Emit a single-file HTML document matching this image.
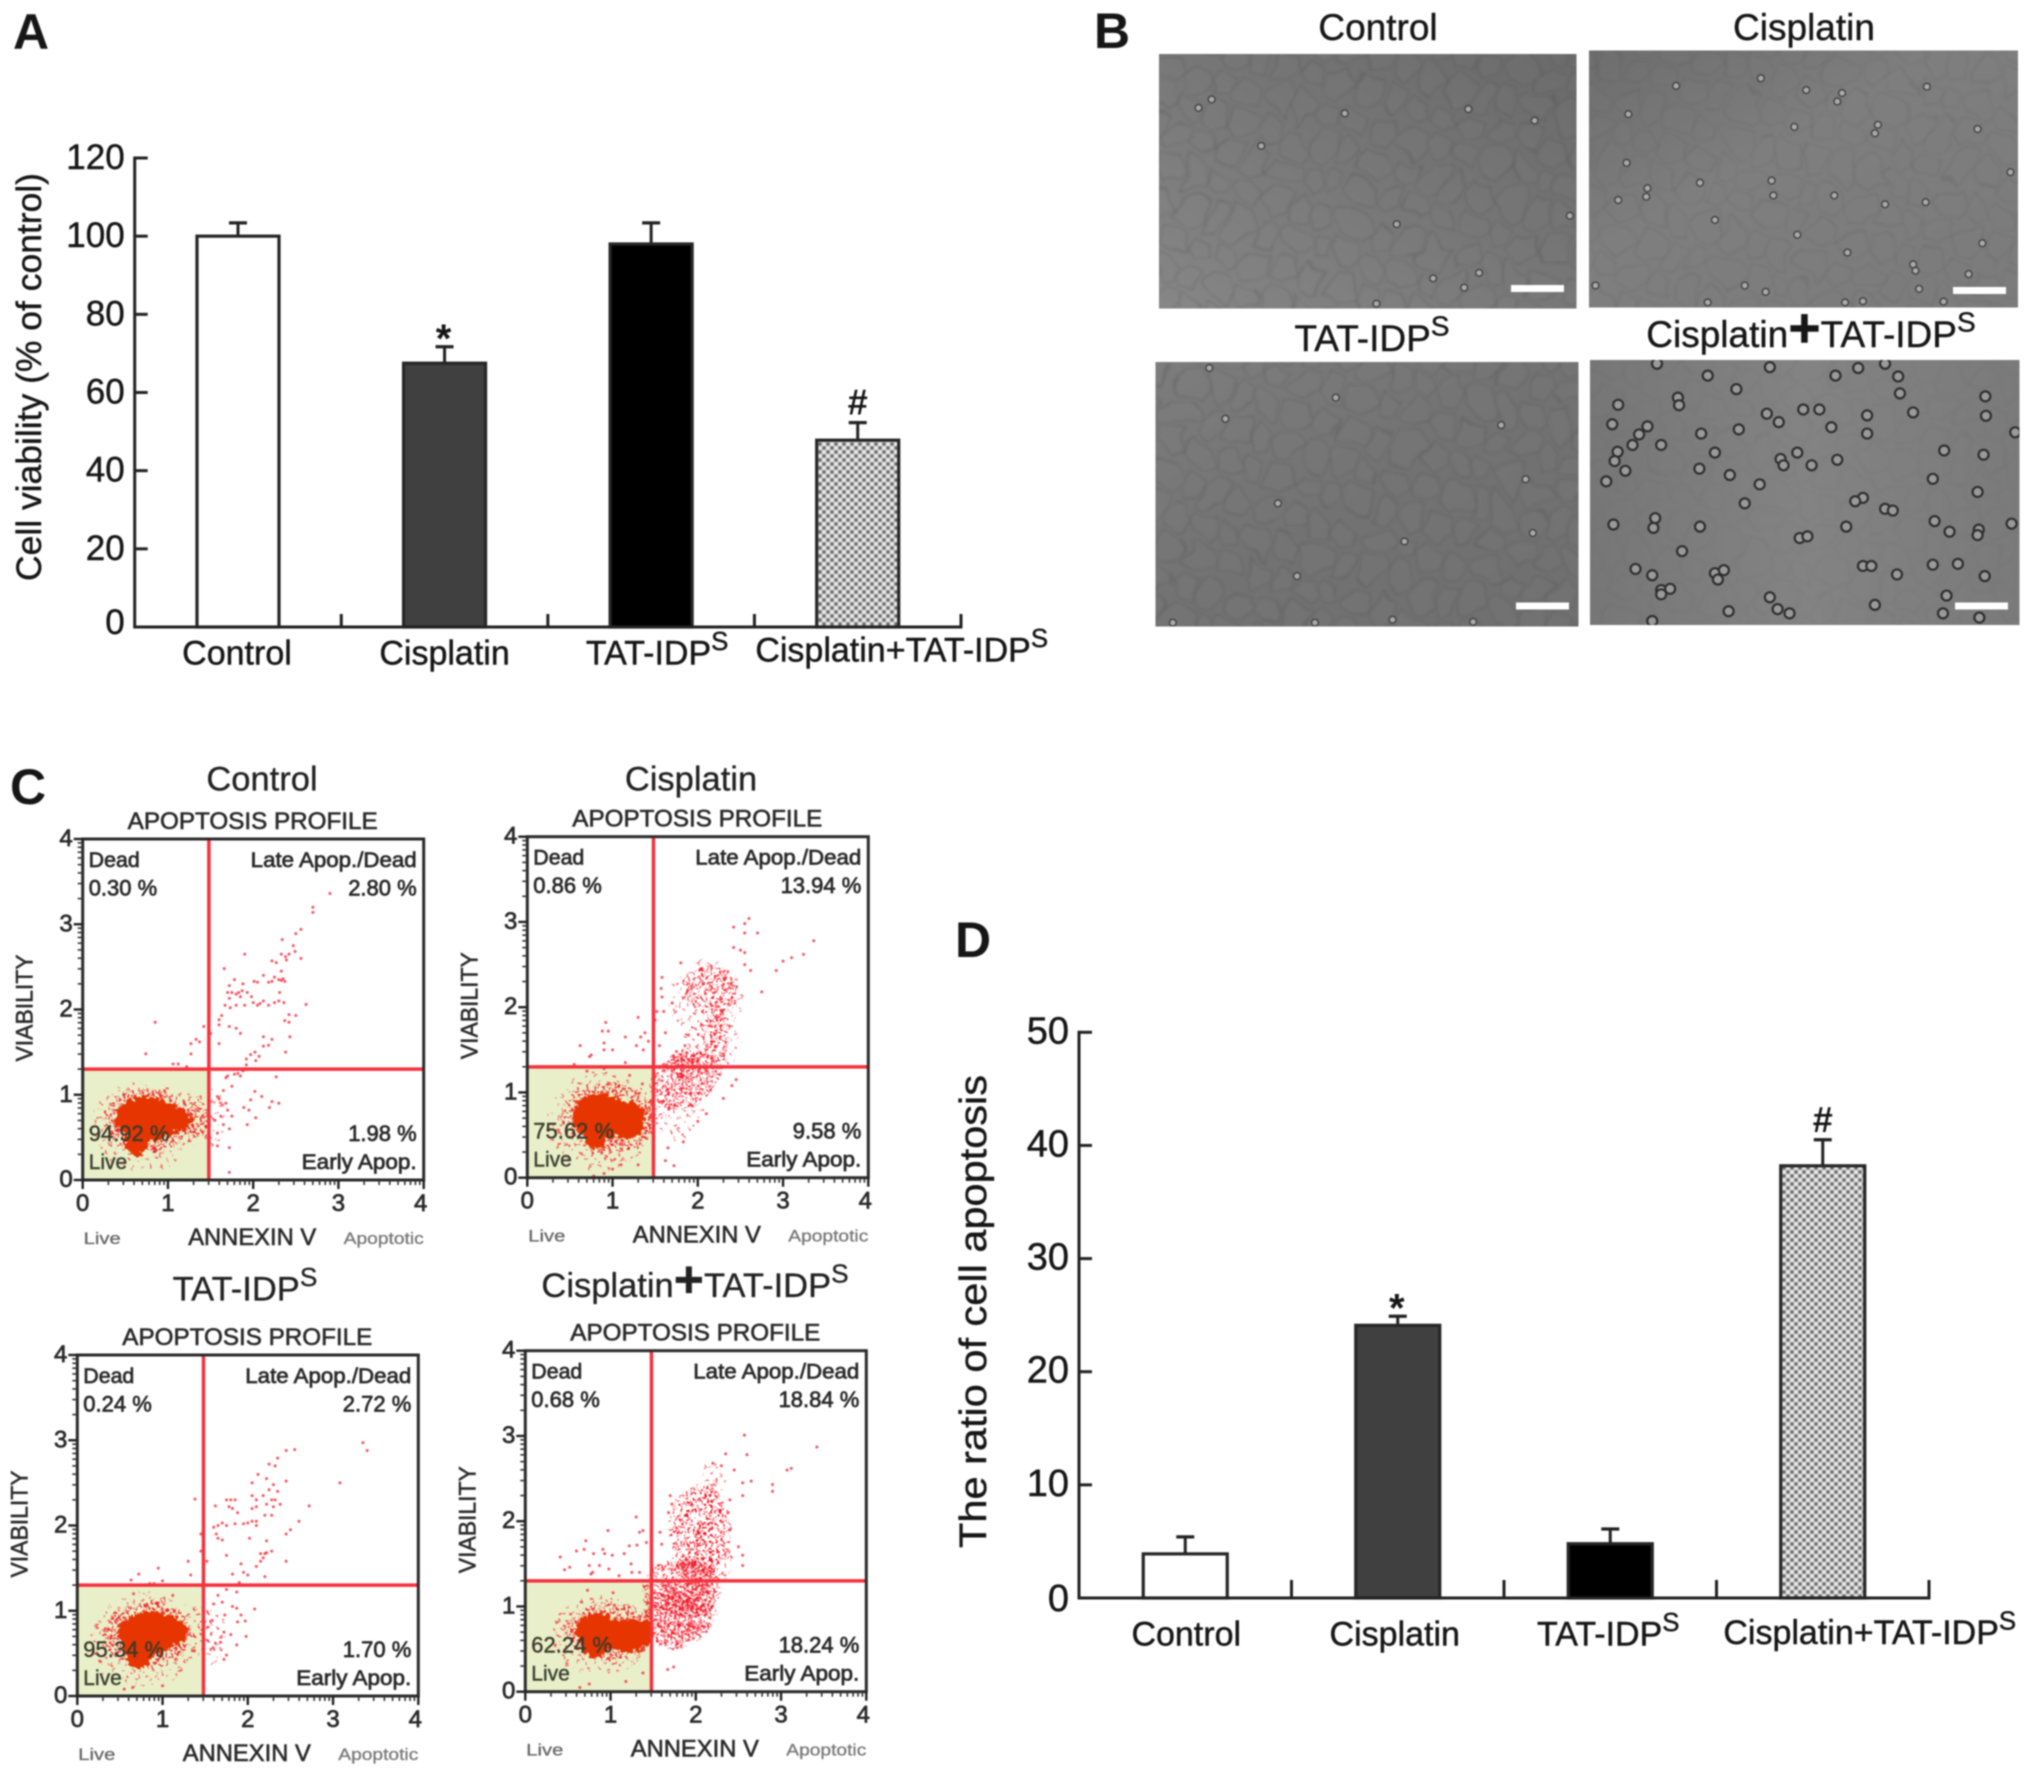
<!DOCTYPE html>
<html lang="en">
<head>
<meta charset="utf-8">
<title>Cell viability and apoptosis figure</title>
<style>
html,body{margin:0;padding:0;background:#fff;width:2031px;height:1775px;overflow:hidden}
svg{display:block;filter:blur(.7px)}
text{font-family:"Liberation Sans",Arial,sans-serif;fill:#161616}
</style>
</head>
<body>
<svg id="figure" xmlns="http://www.w3.org/2000/svg" width="2031" height="1775" viewBox="0 0 2031 1775">
<defs>
<pattern id="hatch" width="8" height="8" patternUnits="userSpaceOnUse">
<rect width="8" height="8" fill="#c6c6c6"/>
<circle cx="0" cy="0" r="1.6" fill="#686868"/><circle cx="8" cy="0" r="1.6" fill="#686868"/><circle cx="0" cy="8" r="1.6" fill="#686868"/><circle cx="8" cy="8" r="1.6" fill="#686868"/><circle cx="4" cy="4" r="1.6" fill="#686868"/>
<circle cx="4" cy="0" r="1.4" fill="#f6f6f6"/><circle cx="0" cy="4" r="1.4" fill="#f6f6f6"/><circle cx="8" cy="4" r="1.4" fill="#f6f6f6"/><circle cx="4" cy="8" r="1.4" fill="#f6f6f6"/>
</pattern>
<pattern id="dotsSparse" width="28" height="28" patternUnits="userSpaceOnUse">
<g fill="#f5202c">
<circle cx="3" cy="4" r="1.4"/><circle cx="12" cy="2" r="1.4"/><circle cx="22" cy="5" r="1.4"/><circle cx="7" cy="11" r="1.4"/><circle cx="17" cy="10" r="1.4"/><circle cx="26" cy="12" r="1.4"/><circle cx="2" cy="18" r="1.4"/><circle cx="12" cy="17" r="1.4"/><circle cx="21" cy="20" r="1.4"/><circle cx="7" cy="25" r="1.4"/><circle cx="16" cy="25" r="1.4"/><circle cx="26" cy="25" r="1.4"/>
</g>
</pattern>
<pattern id="dotsDense" width="18" height="18" patternUnits="userSpaceOnUse">
<g fill="#f0101c">
<circle cx="2" cy="3" r="1.5"/><circle cx="8" cy="1" r="1.5"/><circle cx="14" cy="3" r="1.5"/><circle cx="5" cy="7" r="1.5"/><circle cx="11" cy="7" r="1.5"/><circle cx="17" cy="8" r="1.5"/><circle cx="2" cy="11" r="1.5"/><circle cx="8" cy="12" r="1.5"/><circle cx="14" cy="12" r="1.5"/><circle cx="4" cy="16" r="1.5"/><circle cx="10" cy="16" r="1.5"/><circle cx="16" cy="16" r="1.5"/>
</g>
</pattern>
<pattern id="cellMesh" width="132" height="116" patternUnits="userSpaceOnUse" patternTransform="rotate(17) scale(.85)">
<g id="cellTile" fill="#8c8c8c" fill-opacity=".18" stroke="#4c4c4c" stroke-width="1.6" stroke-opacity=".75">
<polygon points="6,8 28,2 40,18 30,36 10,34 0,20"/>
<polygon points="44,4 66,8 70,28 52,38 38,24"/>
<polygon points="76,2 98,10 96,32 78,36 70,18"/>
<polygon points="104,6 128,12 126,34 104,38 98,22"/>
<polygon points="4,42 26,42 36,60 24,76 6,74 0,58"/>
<polygon points="42,44 62,42 74,58 62,76 44,74 36,60"/>
<polygon points="80,42 102,44 108,62 92,78 76,70 74,54"/>
<polygon points="110,44 130,48 128,72 112,76 108,60"/>
<polygon points="8,80 30,82 36,100 22,114 4,108"/>
<polygon points="42,82 64,82 68,102 50,112 36,100"/>
<polygon points="74,84 96,84 104,102 88,114 70,106"/>
<polygon points="108,82 128,84 130,106 110,112 104,98"/>
</g>
</pattern>
<linearGradient id="micro1" x1="0" y1="1" x2="1" y2="0"><stop offset="0" stop-color="#868686"/><stop offset=".5" stop-color="#777"/><stop offset="1" stop-color="#696969"/></linearGradient>
<linearGradient id="micro2" x1="0" y1="0" x2="1" y2="1"><stop offset="0" stop-color="#6c6c6c"/><stop offset=".4" stop-color="#7e7e7e"/><stop offset="1" stop-color="#7b7b7b"/></linearGradient>
<linearGradient id="micro3" x1="0" y1="0" x2="1" y2="1"><stop offset="0" stop-color="#7c7c7c"/><stop offset=".5" stop-color="#727272"/><stop offset="1" stop-color="#6f6f6f"/></linearGradient>
<linearGradient id="micro4" x1="0" y1="0" x2="1" y2="0"><stop offset="0" stop-color="#767676"/><stop offset=".5" stop-color="#838383"/><stop offset="1" stop-color="#7a7a7a"/></linearGradient>
<filter id="soft" x="-5%" y="-5%" width="110%" height="110%">
<feTurbulence type="fractalNoise" baseFrequency=".022" numOctaves="2" seed="7" result="warp"/>
<feDisplacementMap in="SourceGraphic" in2="warp" scale="34" xChannelSelector="R" yChannelSelector="G"/>
<feGaussianBlur stdDeviation="1.3"/>
</filter>
<filter id="fuzz" x="-20%" y="-20%" width="140%" height="140%">
<feTurbulence type="fractalNoise" baseFrequency=".22" numOctaves="2" seed="3" result="n"/>
<feDisplacementMap in="SourceGraphic" in2="n" scale="11" xChannelSelector="R" yChannelSelector="G"/>
</filter>
<clipPath id="microClip1"><rect x="1159" y="54" width="417.5" height="254.5"/></clipPath>
<clipPath id="microClip2"><rect x="1589" y="50.5" width="429" height="257"/></clipPath>
<clipPath id="microClip3"><rect x="1155.5" y="362" width="423" height="264.5"/></clipPath>
<clipPath id="microClip4"><rect x="1590" y="360" width="429.5" height="265"/></clipPath>
</defs>
<text x="13" y="49" font-size="50" font-weight="bold">A</text>
<text x="1094" y="48" font-size="50" font-weight="bold">B</text>
<text x="10" y="804" font-size="50" font-weight="bold">C</text>
<text x="955" y="957" font-size="50" font-weight="bold">D</text>
</svg>
<script>
/* ---------- Panel A data ---------- */
const viabilityCategories = ['Control', 'Cisplatin', 'TAT-IDP^S', 'Cisplatin+TAT-IDP^S'];
const viabilityValues = [100, 67.5, 98, 47.8];
const viabilityErrors = [3.4, 4.2, 5.4, 4.5];
const viabilityMarks = ['', '*', '', '#'];
const viabilityTicks = [0, 20, 40, 60, 80, 100, 120];

/* ---------- Panel D data ---------- */
const apoptosisCategories = ['Control', 'Cisplatin', 'TAT-IDP^S', 'Cisplatin+TAT-IDP^S'];
const apoptosisValues = [3.9, 24.1, 4.8, 38.2];
const apoptosisErrors = [1.5, 0.8, 1.3, 2.3];
const apoptosisMarks = ['', '*', '', '#'];
const apoptosisTicks = [0, 10, 20, 30, 40, 50];

const barFills = ['#ffffff', '#404040', '#000000', 'url(#hatch)'];

/* ---------- Panel C data (axis units: annexin V, viability) ---------- */
const flowAxisTicks = [0, 1, 2, 3, 4];
const flowGate = [1.48, 1.3];

const controlPercents = ['0.30 %', '2.80 %', '1.98 %', '94.92 %'];
const controlCores = [[.76,.72,.38,.26,0],[.63,.46,.13,.18,0],[1.02,.7,.26,.14,0]];
const controlHalos = [[.72,.62,.62,.52,0,0],[.75,.7,.5,.38,0,1],[1.15,.75,.36,.3,0,0],[1.3,.72,.2,.22,0,1],[1.52,.72,.16,.36,0,0]];
const controlPoints = [[2.9,3.36],[2.7,3.2],[2.7,3.14],[2.56,2.94],[2.5,2.89],[2.34,2.82],[1.9,2.65],[2.47,2.75],[2.49,2.68],[2.33,2.65],[2.38,2.62],[2.42,2.65],[2.39,2.58],[2.56,2.6],[2.22,2.57],[2.27,2.55],[1.66,2.48],[2.33,2.45],[2.35,2.36],[2.33,2.34],[2.37,2.33],[2.3,2.35],[2.12,2.4],[2.25,2.38],[2.01,2.33],[2.05,2.32],[2.18,2.32],[2.22,2.33],[1.78,2.35],[1.88,2.3],[1.72,2.28],[2.31,2.2],[1.7,2.2],[1.75,2.2],[1.8,2.18],[1.83,2.2],[1.87,2.22],[1.93,2.2],[1.98,2.15],[1.85,2.15],[1.72,2.13],[1.67,2.05],[1.73,2.02],[1.8,2.05],[1.9,2.05],[2,2.08],[2.05,2.05],[2.08,2.07],[2.12,2.1],[2.18,2.05],[2.25,2.08],[2.3,2.1],[2.36,2.08],[2.62,2.06],[2.5,1.93],[2.42,1.94],[2.37,1.87],[2.42,1.85],[1.63,1.93],[1.6,1.88],[.85,1.85],[1.42,1.8],[1.6,1.82],[1.72,1.8],[1.8,1.78],[1.85,1.72],[1.5,1.72],[1.33,1.65],[1.37,1.62],[2.12,1.68],[2.22,1.65],[2.43,1.68],[1.27,1.6],[1.6,1.6],[2.12,1.57],[2.18,1.58],[2.38,1.5],[1.27,1.48],[.74,1.48],[1.97,1.47],[2.02,1.5],[2.07,1.45],[1.92,1.42],[2.03,1.4],[1.06,1.36],[1.12,1.36],[1.22,1.33],[1.45,1.3],[1.92,1.35],[1.88,1.28],[1.82,1.25],[1.78,1.24],[1.7,1.22],[1.68,1.2],[2.27,1.21],[1.85,1.22],[1.75,1.1],[1.65,1.05],[2.02,1.04],[2.1,.98],[2.22,.92],[2.3,.9],[1.97,.94],[2.19,.85],[1.89,.85],[1.95,.82],[2.03,.73],[1.93,.65],[1.6,.95],[1.68,.9],[1.7,.82],[1.62,.75],[1.75,.75],[1.55,.7],[1.65,.65],[1.72,.6],[1.58,.55],[1.58,.4],[1.72,.38],[1.72,.09]];

const cisplatinPercents = ['0.86 %', '13.94 %', '9.58 %', '75.62 %'];
const cisplatinCores = [[.86,.72,.32,.27,0],[1.18,.68,.2,.22,0],[.8,.5,.13,.16,0]];
const cisplatinHalos = [[.85,.66,.62,.56,0,0],[.95,.7,.56,.42,0,1],[2.1,2.05,.42,.5,0,0],[2.15,2.2,.32,.28,0,1],[2.15,1.6,.34,.42,0,0],[2.2,1.65,.16,.3,0,1],[1.85,1.15,.42,.32,-30,1],[1.75,.85,.32,.42,0,0],[1.98,1.3,.3,.16,0,1]];
const cisplatinPoints = [[2.6,3.04],[2.55,2.98],[2.42,2.94],[2.55,2.87],[2.7,2.87],[3.36,2.78],[3.24,2.62],[3.1,2.58],[3,2.54],[2.92,2.43],[2.42,2.7],[2.5,2.67],[2.55,2.64],[2.75,2.18],[2.62,2.43],[2.55,2.5],[1.8,2.52],[1.58,2.35],[1.57,2.22],[1.58,2.12],[1.6,1.95],[1.52,1.95],[1.3,1.88],[.92,1.82],[.88,1.72],[.95,1.72],[.9,1.58],[.62,1.55],[.9,1.5],[1,1.5],[.75,1.44],[.73,1.42],[1.33,1.65],[1.38,1.7],[1.42,1.6],[1.36,1.5],[1.28,1.55],[1.15,1.65],[1.5,1.85],[1.83,.42],[1.62,.2],[1.72,.14],[1.65,.35],[1,.1],[1.1,.15],[1.3,.15],[.78,.02],[.9,.05],[2.3,.93],[2.1,.75],[2,.66],[2.45,1.15],[2.4,1.08],[1.15,1.35],[.55,1.33],[.7,1.25],[.9,1.28],[1.2,1.2],[1.35,1.1],[1.62,1.7],[1.75,1.48],[1.85,1.55],[1.7,2.05],[1.55,1.55]];

const tatPercents = ['0.24 %', '2.72 %', '1.70 %', '95.34 %'];
const tatCores = [[.84,.74,.36,.25,0],[.72,.52,.16,.19,0],[1.13,.76,.16,.17,0]];
const tatHalos = [[.78,.66,.62,.55,0,0],[.82,.72,.52,.38,0,1],[1.35,.78,.3,.28,0,0],[1.55,.72,.18,.34,0,0]];
const tatPoints = [[3.35,2.97],[3.4,2.88],[3.08,2.5],[2.45,2.88],[2.55,2.89],[2.35,2.79],[2.25,2.72],[2.32,2.7],[1.38,2.31],[2.12,2.6],[2.22,2.55],[2.05,2.5],[2.45,2.52],[2.3,2.48],[2.72,2.23],[1.62,2.23],[1.75,2.3],[1.8,2.3],[1.85,2.3],[1.78,2.22],[1.82,2.2],[1.88,2.15],[2.05,2.35],[2.1,2.3],[2.18,2.35],[2.25,2.42],[2.35,2.4],[2.32,2.3],[2.28,2.3],[2.3,2.22],[2.22,2.25],[2.1,2.22],[2.05,2.2],[2.38,2.25],[2.2,2.12],[2.28,2.12],[2.6,2.05],[2.5,1.95],[2.45,1.9],[1.6,1.98],[1.65,2],[1.7,2.03],[1.75,2],[1.85,2.02],[1.95,2.02],[2,2.03],[2.05,2.05],[2.1,2.05],[2.1,2],[1.63,1.9],[1.65,1.85],[1.7,1.83],[2.02,1.85],[2.22,1.82],[1.45,1.9],[1.45,1.7],[2.2,1.67],[2.15,1.67],[2.22,1.68],[2.28,1.7],[2.18,1.62],[2.15,1.58],[2.1,1.52],[1.75,1.65],[1.52,1.58],[1.3,1.58],[2.45,1.58],[1.92,1.55],[.95,1.5],[2.2,1.4],[1.82,1.43],[1.95,1.45],[2,1.42],[.72,1.43],[1.33,1.42],[1.9,1.33],[.63,1.36],[1,1.35],[.85,1.32],[.9,1.32],[2.22,1.3],[1.75,1.25],[1.87,1.22],[.66,1.2],[1.12,1.18],[1.65,1.18],[1.6,1.08],[1.7,1.1],[1.82,1.05],[1.87,1.03],[2.08,1.02],[1.73,.95],[1.92,.95],[1.97,.88],[1.88,.87],[1.72,.75],[1.8,.72],[1.98,.7],[1.87,.6],[1.68,.63],[1.62,.62],[1.75,.48],[1.72,.43],[1,.12],[.65,.1],[.55,.08]];

const comboPercents = ['0.68 %', '18.84 %', '18.24 %', '62.24 %'];
const comboCores = [[.85,.7,.26,.22,0],[1.2,.66,.3,.19,0],[1.4,.7,.1,.13,0],[.82,.52,.14,.12,0]];
const comboHalos = [[.88,.66,.58,.46,0,0],[1,.7,.52,.34,0,1],[2.05,1.9,.36,.52,0,1],[2.08,2.12,.24,.28,0,1],[2.08,1.55,.18,.42,0,1],[1.95,1.2,.34,.34,-25,1],[1.72,.85,.32,.36,-25,1],[2.1,1.55,.32,.4,0,0],[1.8,1.05,.4,.5,-30,1],[2.22,2.5,.14,.22,0,0]];
const comboPoints = [[2.57,3.01],[2.35,2.79],[2.6,2.78],[3.42,2.87],[3.12,2.62],[3.07,2.6],[2.3,2.65],[2.45,2.6],[2.2,2.68],[2.55,2.45],[2.65,2.47],[2.9,2.43],[2.9,2.35],[2.55,2.3],[2.4,2.25],[2.38,2.1],[2.4,1.9],[2.5,1.7],[2.55,1.6],[2.55,1.48],[1.3,2.05],[.97,1.89],[1.34,1.87],[1.38,1.89],[.71,1.77],[.69,1.67],[.6,1.65],[.41,1.58],[.91,1.67],[.93,1.62],[.8,1.62],[1.02,1.6],[1.16,1.62],[1.22,1.71],[1.31,1.72],[1.42,1.75],[.46,1.43],[.52,1.46],[.75,1.48],[.87,1.48],[.98,1.44],[.79,1.4],[.77,1.38],[1.24,1.5],[1.25,1.4],[1.1,1.36],[1.34,1.4],[1.58,1.87],[1.6,1.73],[1.56,1.48],[1.62,1.44],[.73,1.19],[1.03,1.16],[1.67,.26],[1.74,.29],[1.83,.54],[2.16,.87],[.64,.05],[.75,.09],[1.18,.12],[1.38,.22],[1.7,2.3],[1.72,2.2],[1.68,2.1]];

/* ---------- Panel B decoration: rounded cell positions in each micrograph ---------- */
const microCells1 = [[165,255],[187,235],[728,285],[270,345],[635,645],[558,658],[610,680],[463,718],[787,510],[497,530],[617,258],[410,268]];
const microCells2 = [[965,203],[1107,185],[1243,220],[1235,240],[1385,205],[885,270],[1183,213],[1163,300],[1303,295],[1298,315],[1470,305],[882,385],[1005,432],[917,445],[915,465],[868,473],[1125,427],[1128,462],[1230,462],[1315,483],[1383,478],[1030,520],[1168,555],[1252,597],[1362,625],[1366,640],[1455,648],[1478,575],[1080,675],[1115,690],[830,675],[1018,715],[1248,715],[1278,712],[1413,713],[1372,683],[1525,407]];
const microCells3 = [[210,990],[672,1005],[298,1190],[725,1260],[713,1133],[395,940],[183,870],[122,1472],[360,1472],[330,1362],[510,1280],[625,1470],[490,1465]];
const microCells4 = [[933,860],[1018,888],[1122,868],[1232,888],[1270,870],[1315,860],[1337,890],[1340,930],[1483,937],[1484,983],[1362,975],[1285,982],[1205,968],[1178,968],[1117,978],[1137,998],[1225,1010],[1070,1015],[1066,920],[968,940],[970,958],[868,957],[858,1003],[917,1008],[903,1027],[892,1052],[940,1052],[1007,1025],[867,1068],[862,1090],[880,1113],[848,1138],[1030,1070],[1004,1108],[1055,1123],[1105,1145],[1140,1085],[1145,1100],[1168,1070],[1192,1100],[1235,1087],[1285,1025],[1533,1022],[1414,1065],[1480,1075],[1395,1132],[1470,1163],[1278,1177],[1265,1185],[1080,1190],[1315,1203],[1328,1207],[930,1225],[927,1248],[860,1240],[1005,1245],[1172,1272],[1185,1268],[1250,1245],[1398,1232],[1423,1257],[1472,1252],[1470,1265],[1527,1238],[975,1303],[897,1345],[925,1360],[1030,1355],[1045,1348],[1035,1370],[940,1395],[955,1392],[940,1405],[1053,1445],[1135,1440],[1155,1450],[925,1468],[1278,1338],[1292,1338],[1335,1358],[1395,1335],[1437,1333],[1482,1362],[1418,1408],[1298,1430],[1412,1450],[1473,1460],[1122,1412]];

/* ---------- helpers ---------- */
const NS = 'http://www.w3.org/2000/svg';
const root = document.getElementById('figure');
function add(parent, tag, attrs) {
  const e = document.createElementNS(NS, tag);
  for (const k in attrs) e.setAttribute(k, attrs[k]);
  parent.appendChild(e);
  return e;
}
function addText(parent, x, y, str, size, opts) {
  const o = opts || {};
  const a = {x: x, y: y, 'font-size': size, 'text-anchor': o.anchor || 'middle'};
  if (o.fill) a.style = 'fill:' + o.fill;
  if (o.weight) a['font-weight'] = o.weight;
  if (o.length) { a.textLength = o.length; a.lengthAdjust = 'spacingAndGlyphs'; }
  if (o.transform) a.transform = o.transform;
  if (o.stroke) { a.stroke = o.fill || '#161616'; a['stroke-width'] = o.stroke; }
  const t = add(parent, 'text', a);
  str.split(/(\^S|\+)/).forEach(function (part) {
    if (part === '^S') {
      const s = add(t, 'tspan', {dy: -size * 0.42, 'font-size': size * 0.76});
      s.textContent = 'S';
      
      
    } else if (part === '+' && o.boldPlus) {
      const p = add(t, 'tspan', {'font-size': size * 1.5, 'font-weight': 'bold'});
      p.textContent = '+';
      
      
    } else if (part) {
      t.appendChild(document.createTextNode(part));
    }
  });
  return t;
}
function slug(s) { return s.replace(/\^S/g, 's').replace(/\+/g, '-plus-').toLowerCase().replace(/[^a-z0-9]+/g, '-'); }

/* ---------- bar charts (panels A and D) ---------- */
function drawBarChart(name, categories, values, errors, marks, ticks, g) {
  const group = add(root, 'g', {});
  
  
  const yScale = function (v) { return g.y0 - (v / g.yMax) * (g.y0 - g.yTop); };
  const band = (g.xEnd - g.x0) / categories.length;
  const xCenter = function (i) { return g.x0 + band * (i + 0.5); };

  categories.forEach(function (cat, i) {
    const cx = xCenter(i);
    const top = yScale(values[i]);
    const errTop = yScale(values[i] + errors[i]);
    const whisker = add(group, 'line', {x1: cx, x2: cx, y1: top, y2: errTop, stroke: '#222', 'stroke-width': 3});
    
    
    const cap = add(group, 'line', {x1: cx - 9, x2: cx + 9, y1: errTop, y2: errTop, stroke: '#222', 'stroke-width': 3.2});
    
    
    const bar = add(group, 'rect', {x: cx - g.barW / 2, y: top, width: g.barW, height: g.y0 - top, fill: barFills[i], stroke: '#262626', 'stroke-width': 3.2});
    
    
    if (marks[i]) {
      const star = marks[i] === '*';
      const m = addText(group, cx + (i === 1 ? -1 : 0), errTop + (star ? 5 : -8), marks[i], star ? 40 : 36, {weight: 'bold'});
      
      
    }
    const label = addText(group, cx + g.labelShift[i], g.labelY[i], cat, g.labelSize, {stroke: .45});
    
    
  });

  const yAxis = add(group, 'line', {x1: g.x0, x2: g.x0, y1: g.yTop - 1.5, y2: g.y0 + 1.5, stroke: '#222', 'stroke-width': 3});
  
  
  const xAxis = add(group, 'line', {x1: g.x0, x2: g.xEnd + 1.5, y1: g.y0, y2: g.y0, stroke: '#222', 'stroke-width': 3});
  
  
  for (let i = 1; i <= categories.length; i++) {
    const tx = g.x0 + band * i;
    const xt = add(group, 'line', {x1: tx, x2: tx, y1: g.y0, y2: g.y0 - g.xTick, stroke: '#222', 'stroke-width': 3});
    
    
  }
  ticks.forEach(function (t) {
    const ty = yScale(t);
    if (t !== 0) {
      const mark = add(group, 'line', {x1: g.x0, x2: g.x0 + g.yTick, y1: ty, y2: ty, stroke: '#222', 'stroke-width': 3});
      
      
    }
    const lab = addText(group, g.x0 - g.tickGap, ty + (t === 0 ? g.zeroDy : 11), String(t), g.tickSize, {anchor: 'end', stroke: .45});
    
    
  });
  const title = addText(group, 0, 0, g.title, g.titleSize, {length: g.titleLen, stroke: .4, transform: 'translate(' + g.titleX + ',' + g.titleY + ') rotate(-90)'});
  
  
}

drawBarChart('cell-viability-chart', viabilityCategories, viabilityValues, viabilityErrors, viabilityMarks, viabilityTicks, {
  x0: 134.7, xEnd: 961, y0: 627, yTop: 158, yMax: 120, barW: 82, xTick: 13, yTick: 13, tickGap: 10, tickSize: 35, labelSize: 34, zeroDy: 7,
  labelShift: [-1, 0, 6, 44], labelY: [664.5, 664.5, 664.5, 661.5],
  title: 'Cell viability (% of control)', titleX: 41, titleY: 377, titleLen: 408, titleSize: 35
});
drawBarChart('cell-apoptosis-chart', apoptosisCategories, apoptosisValues, apoptosisErrors, apoptosisMarks, apoptosisTicks, {
  x0: 1079, xEnd: 1929, y0: 1598, yTop: 1032.3, yMax: 50, barW: 84, xTick: 18, yTick: 13, tickGap: 10, tickSize: 38, labelSize: 34, zeroDy: 13,
  labelShift: [1, -3, -2, 47], labelY: [1645.5, 1645.5, 1645.5, 1644],
  title: 'The ratio of cell apoptosis', titleX: 986, titleY: 1311.5, titleLen: 473, titleSize: 38
});

/* ---------- micrographs (panel B) ---------- */
function drawMicrograph(name, box, gradient, clipId, meshOpacity, cells, ringy, title, titleX, titleY, bar) {
  const group = add(root, 'g', {});
  
  
  const inner = add(group, 'g', {'clip-path': 'url(#' + clipId + ')'});
  
  
  const bg = add(inner, 'rect', {x: box[0], y: box[1], width: box[2], height: box[3], fill: 'url(#' + gradient + ')'});
  
  
  const mesh = add(inner, 'rect', {x: box[0] - 30, y: box[1] - 30, width: box[2] + 60, height: box[3] + 60, fill: 'url(#cellMesh)', opacity: meshOpacity, filter: 'url(#soft)'});
  
  
  cells.forEach(function (c) {
    const cx = 1100 + c[0] * 0.597, cy = c[1] * 0.423;
    const ring = add(inner, 'circle', {cx: cx, cy: cy, r: ringy ? 5 : 3.4, fill: ringy ? '#9a9a9a' : '#ababab', stroke: ringy ? '#2e2e2e' : '#484848', 'stroke-width': ringy ? 2.2 : 1.6});
    
    
  });
  const scale = add(group, 'rect', {x: bar[0], y: bar[1], width: 53, height: 7, fill: '#fff'});
  
  
  const t = addText(group, titleX, titleY, title, 37, {boldPlus: true, stroke: .4});
  
  
}
drawMicrograph('micrograph-control', [1159, 54, 417.5, 254.5], 'micro1', 'microClip1', .42, microCells1, false, 'Control', 1378, 40, [1511, 285]);
drawMicrograph('micrograph-cisplatin', [1589, 50.5, 429, 257], 'micro2', 'microClip2', .26, microCells2, false, 'Cisplatin', 1804, 40, [1953, 287]);
drawMicrograph('micrograph-tat-idp', [1155.5, 362, 423, 264.5], 'micro3', 'microClip3', .42, microCells3, false, 'TAT-IDP^S', 1372, 351, [1516, 602.5]);
drawMicrograph('micrograph-cisplatin-tat-idp', [1590, 360, 429.5, 265], 'micro4', 'microClip4', .12, microCells4, true, 'Cisplatin+TAT-IDP^S', 1811, 347, [1955, 602.5]);

/* ---------- flow cytometry plots (panel C) ---------- */
function drawFlowPlot(name, left, top, title, titleX, titleY, percents, cores, halos, points) {
  const size = 341;
  const group = add(root, 'g', {});
  
  
  const xS = function (v) { return left + (v / 4) * size; };
  const yS = function (v) { return top + size - (v / 4) * size; };
  const clipId = name + '-clip';
  const defs = add(group, 'defs', {});
  const cp = add(defs, 'clipPath', {id: clipId});
  add(cp, 'rect', {x: left, y: top, width: size, height: size});
  const bgRect = add(group, 'rect', {x: left, y: top, width: size, height: size, fill: '#fff'});
  
  
  const live = add(group, 'rect', {x: xS(0), y: yS(flowGate[1]), width: xS(flowGate[0]) - xS(0), height: yS(0) - yS(flowGate[1]), fill: '#e9efc9'});
  
  

  const marks = add(group, 'g', {'clip-path': 'url(#' + clipId + ')'});
  
  
  function ellipse(d, fill, op, label, filter) {
    const attrs = {cx: xS(d[0]), cy: yS(d[1]), rx: (d[2] / 4) * size, ry: (d[3] / 4) * size, fill: fill, opacity: op, transform: 'rotate(' + d[4] + ' ' + xS(d[0]) + ' ' + yS(d[1]) + ')'};
    if (filter) attrs.filter = filter;
    const e = add(marks, 'ellipse', attrs);
    
    
  }
  halos.forEach(function (d) { ellipse(d, d[5] ? 'url(#dotsDense)' : 'url(#dotsSparse)', d[5] ? .85 : .7, 'event-cloud', 'url(#fuzz)'); });
  cores.forEach(function (d) { ellipse(d, '#e63400', 1, 'dense-event-core', 'url(#fuzz)'); });
  points.forEach(function (p) {
    const dot = add(marks, 'circle', {cx: xS(p[0]), cy: yS(p[1]), r: 1.5, fill: '#f22a3a', opacity: .8});
    
    
  });

  const gx = add(group, 'line', {x1: xS(flowGate[0]), x2: xS(flowGate[0]), y1: top, y2: top + size, stroke: '#f6303c', 'stroke-width': 3.5});
  
  
  const gy = add(group, 'line', {x1: left, x2: left + size, y1: yS(flowGate[1]), y2: yS(flowGate[1]), stroke: '#f6303c', 'stroke-width': 3.5});
  
  
  const frame = add(group, 'rect', {x: left, y: top, width: size, height: size, fill: 'none', stroke: '#2a2a2a', 'stroke-width': 3});
  
  

  /* axis ticks: log-spaced minors in each unit */
  for (let d = 0; d < 4; d++) {
    for (let m = 2; m <= 9; m++) {
      const v = d + Math.log10(m);
      const tl = add(group, 'line', {x1: left - 5, x2: left, y1: yS(v), y2: yS(v), stroke: '#333', 'stroke-width': 1.6});
      
      
      const tb = add(group, 'line', {x1: xS(v), x2: xS(v), y1: top + size, y2: top + size + 5, stroke: '#333', 'stroke-width': 1.6});
      
      
    }
  }
  flowAxisTicks.forEach(function (t) {
    const ml = add(group, 'line', {x1: left - 9, x2: left, y1: yS(t), y2: yS(t), stroke: '#222', 'stroke-width': 2.4});
    
    
    const mb = add(group, 'line', {x1: xS(t), x2: xS(t), y1: top + size, y2: top + size + 9, stroke: '#222', 'stroke-width': 2.4});
    
    
    const ly = addText(group, left - 10, yS(t) + 7, String(t), 24, {anchor: 'end', stroke: .7, fill: '#2a2a2a'});
    
    
    const lx = addText(group, xS(t) - (t === 4 ? 3 : 0), top + size + 31, String(t), 24, {stroke: .7, fill: '#2a2a2a'});
    
    
  });

  const quad = {fill: '#2a2a2a', stroke: .7};
  const q1 = addText(group, left + 6, top + 28, 'Dead', 21, Object.assign({anchor: 'start', length: 51}, quad));
  
  
  const q2 = addText(group, left + 6, top + 56.5, percents[0], 22, Object.assign({anchor: 'start'}, quad));
  
  
  const q3 = addText(group, left + 334, top + 28, 'Late Apop./Dead', 21, Object.assign({anchor: 'end', length: 166}, quad));
  
  
  const q4 = addText(group, left + 334, top + 56.5, percents[1], 22, Object.assign({anchor: 'end'}, quad));
  
  
  const q5 = addText(group, left + 334, top + 302, percents[2], 22, Object.assign({anchor: 'end'}, quad));
  
  
  const q6 = addText(group, left + 334, top + 330, 'Early Apop.', 21, Object.assign({anchor: 'end', length: 115}, quad));
  
  
  const q7 = addText(group, left + 6, top + 302, percents[3], 22, {anchor: 'start', fill: '#3a3a2a', stroke: .4});
  
  
  const q8 = addText(group, left + 6, top + 330, 'Live', 21, {anchor: 'start', fill: '#3a3f30', stroke: .4});
  
  

  const head = addText(group, left + 170, top - 10, 'APOPTOSIS PROFILE', 24, {length: 250, stroke: .6, fill: '#2a2a2a'});
  
  
  const ttl = addText(group, titleX, titleY, title, 34.5, {boldPlus: true, fill: '#222', stroke: .3});
  
  
  const yt = addText(group, 0, 0, 'VIABILITY', 24, {length: 107, fill: '#2a2a2a', stroke: .5, transform: 'translate(' + (left - 50) + ',' + (top + 169) + ') rotate(-90)'});
  
  
  const xt = addText(group, left + 169.5, top + size + 65, 'ANNEXIN V', 24, {length: 128, fill: '#2a2a2a', stroke: .6});
  
  
  const lv = addText(group, left + 1, top + size + 64, 'Live', 17, {anchor: 'start', length: 37, fill: '#666', stroke: .3});
  
  
  const ap = addText(group, left + 341, top + size + 64, 'Apoptotic', 17, {anchor: 'end', length: 80, fill: '#777', stroke: .3});
  
  
}
drawFlowPlot('flow-plot-control', 82.7, 839, 'Control', 262, 790.7, controlPercents, controlCores, controlHalos, controlPoints);
drawFlowPlot('flow-plot-cisplatin', 527.3, 836.7, 'Cisplatin', 691, 790.7, cisplatinPercents, cisplatinCores, cisplatinHalos, cisplatinPoints);
drawFlowPlot('flow-plot-tat-idp', 77.3, 1355, 'TAT-IDP^S', 245, 1300.7, tatPercents, tatCores, tatHalos, tatPoints);
drawFlowPlot('flow-plot-cisplatin-tat-idp', 525.3, 1350.7, 'Cisplatin+TAT-IDP^S', 695, 1297, comboPercents, comboCores, comboHalos, comboPoints);
</script>
</body>
</html>
